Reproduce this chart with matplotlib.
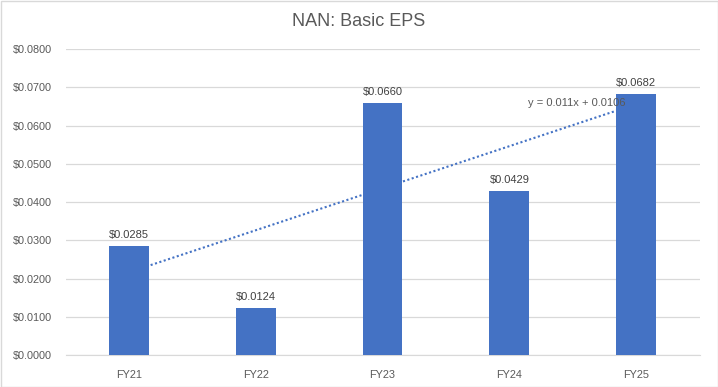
import matplotlib
matplotlib.use("Agg")
import matplotlib.pyplot as plt
import numpy as np
from matplotlib.ticker import FuncFormatter, MultipleLocator
from matplotlib.patches import Rectangle

categories = ["FY21", "FY22", "FY23", "FY24", "FY25"]
eps = [0.0285, 0.0124, 0.0660, 0.0429, 0.0682]
title = "NAN: Basic EPS"

plt.rcParams['font.family'] = ['Liberation Sans', 'DejaVu Sans']
gray = "#595959"
bar_color = "#4472C4"

fig = plt.figure(figsize=(7.18, 3.87), dpi=100)
ax = fig.add_axes([65.5/718, 1-355/387, (699.5-65.5)/718, (355-49)/387])

x = np.arange(len(categories))
bars = ax.bar(x, eps, width=0.315, color=bar_color, zorder=3)

# linear trendline (Excel-style, x = 1..n)
xn = x + 1
slope, intercept = np.polyfit(xn, eps, 1)
ax.plot(x, slope*xn + intercept, linestyle=(0, (1, 1.2)), color=bar_color, lw=1.5, zorder=2)
ax.text(x[-1] - 0.08, slope*xn[-1] + intercept + 0.0002,
        f"y = {slope:.3f}x + {intercept:.4f}", ha="right", va="center",
        fontsize=8, color=gray, zorder=4)

for xi, v in zip(x, eps):
    ax.text(xi, v + 0.0015, f"${v:.4f}", ha="center", va="bottom", fontsize=8, color="#404040")

ax.set_ylim(0, 0.08)
ax.set_xlim(-0.5, len(categories) - 0.5)
ax.yaxis.set_major_locator(MultipleLocator(0.01))
ax.yaxis.set_major_formatter(FuncFormatter(lambda v, p: f"${v:.4f}"))
ax.set_xticks(x)
ax.set_xticklabels(categories)
ax.tick_params(axis="both", length=0, labelsize=7.8, colors=gray)
ax.tick_params(axis="y", pad=10)
ax.tick_params(axis="x", pad=11)
ax.grid(axis="y", color="#D9D9D9", lw=0.9, zorder=0)
for s in ["top", "right", "left"]:
    ax.spines[s].set_visible(False)
ax.spines["bottom"].set_color("#D9D9D9")
ax.spines["bottom"].set_zorder(1)

fig.text(0.5, 1 - 22/387, title, ha="center", va="center", fontsize=13, color=gray)
fig.patches.append(Rectangle((0.5/718, 0.5/387), 1 - 1/718, 1 - 1/387, transform=fig.transFigure,
                             fill=False, edgecolor="#D9D9D9", lw=1))

fig.savefig("out.png", dpi=100, facecolor="white")
